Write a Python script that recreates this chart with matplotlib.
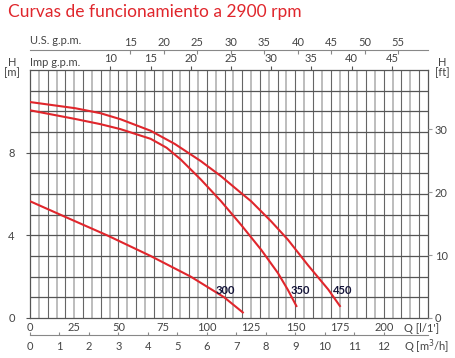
import matplotlib
matplotlib.use('Agg')
import matplotlib.pyplot as plt
import numpy as np

# caudal Q en l/min, altura H en m
q_300 = [0, 20, 43.6, 68.2, 90.9, 109.8, 120.3]
h_300 = [5.65, 4.89, 4.0, 3.0, 2.0, 1.0, 0.27]

q_350 = [0, 25.6, 39.8, 51.1, 68.2, 77.2, 85.2, 96.6, 108, 119.3, 130.7, 140.2, 145.8, 150.6]
h_350 = [10.05, 9.63, 9.38, 9.14, 8.67, 8.24, 7.67, 6.70, 5.65, 4.51, 3.30, 2.17, 1.36, 0.58]

q_450 = [0, 25.6, 39.8, 51.1, 68.2, 81.9, 96.6, 108, 119.3, 125, 136.4, 145.8, 157.2, 168.6, 175.2]
h_450 = [10.45, 10.15, 9.91, 9.62, 9.06, 8.42, 7.59, 6.86, 6.05, 5.65, 4.67, 3.79, 2.55, 1.38, 0.58]

lpm_ticks = [0, 25, 50, 75, 100, 125, 150, 175, 200]
m3h_ticks = list(range(0, 13))
imp_ticks = [10, 15, 20, 25, 30, 35, 40, 45]
us_ticks = [15, 20, 25, 30, 35, 40, 45, 50, 55]
hm_ticks = [0, 4, 8]
hft_ticks = [0, 10, 20, 30]

RED = '#e0262c'
GRAY = '#555555'
TXT = '#444444'
FS = 8
plt.rcParams['font.family'] = 'Lato'

W, H = 455, 358


def px(x, y):
    return x / W, 1 - y / H


fig = plt.figure(figsize=(W / 100, H / 100), dpi=100)
ax = fig.add_axes([30 / W, 40 / H, 398 / W, 248 / H])
ax.set_xlim(0, 225)
ax.set_ylim(0, 12)

# rejilla
for x in np.arange(5, 225, 5):
    if x % 10 == 0:
        ax.axvline(x, color='#666666', lw=0.8, zorder=1)
    else:
        ax.axvline(x, color='#b8b8b8', lw=1.3, zorder=1)
for y in range(1, 12):
    ax.axhline(y, color=GRAY, lw=0.9, zorder=1)

for s in ax.spines.values():
    s.set_color(GRAY)
    s.set_linewidth(0.9)

# curvas
for q, h in [(q_300, h_300), (q_350, h_350), (q_450, h_450)]:
    ax.plot(q, h, color=RED, lw=1.5, zorder=3, solid_joinstyle='round')

lab = dict(fontsize=FS, fontweight='bold', color='#15153a', ha='center', va='center', zorder=4)
ax.text(110.2, 1.35, '300', **lab)
ax.text(153.1, 1.35, '350', **lab)
ax.text(176.7, 1.35, '450', **lab)

# ejes principales
ax.set_xticks(lpm_ticks)
ax.tick_params(axis='x', length=0, pad=3, labelsize=FS, labelcolor=TXT)
ax.set_yticks(hm_ticks)
ax.tick_params(axis='y', length=3, color=GRAY, pad=8, labelsize=FS, labelcolor=TXT)

ax2 = ax.twinx()
ax2.set_ylim(0, 12 * 3.28084)
ax2.set_yticks(hft_ticks)
ax2.tick_params(axis='y', length=3, color='#999999', pad=2, labelsize=FS, labelcolor=TXT)
for s in ax2.spines.values():
    s.set_visible(False)

# Imp g.p.m.
imp = ax.secondary_xaxis('top', functions=(lambda q: q / 4.54609, lambda g: g * 4.54609))
imp.set_xticks(imp_ticks)
imp.tick_params(length=3, color=GRAY, pad=1, labelsize=FS, labelcolor=TXT)
imp.spines['top'].set_visible(False)

# U.S. g.p.m.
us = ax.secondary_xaxis(1 + 19.5 / 248, functions=(lambda q: q / 3.78541, lambda g: g * 3.78541))
us.set_xticks(us_ticks)
us.tick_params(direction='in', length=3, color='#888888', pad=2, labelsize=FS, labelcolor=TXT)
us.spines['top'].set_color('#888888')

# m3/h
m3 = ax.secondary_xaxis(-17 / 248, functions=(lambda q: q * 0.06, lambda m: m / 0.06))
m3.set_xticks(m3h_ticks)
m3.tick_params(direction='in', length=2, color='#888888', pad=4, labelsize=FS, labelcolor=TXT)
m3.spines['bottom'].set_color('#888888')

# textos
t = dict(fontsize=FS, color=TXT, va='center')
fig.text(*px(30, 41), 'U.S. g.p.m.', ha='left', **t)
fig.text(*px(30, 62), 'Imp g.p.m.', ha='left', **t)
fig.text(*px(12, 62), 'H', ha='center', **t)
fig.text(*px(12, 73), '[m]', ha='center', **t)
fig.text(*px(442, 62), 'H', ha='center', **t)
fig.text(*px(442, 73), '[ft]', ha='center', **t)
fig.text(*px(404, 329), "Q [l/1']", ha='left', **t)
fig.text(*px(404, 347), 'Q [m$^3$/h]', ha='left', **t)

fig.text(*px(8, 12), 'Curvas de funcionamiento a 2900 rpm', ha='left', va='center',
         fontsize=12.5, color=RED)

fig.savefig('out.png', dpi=100)
